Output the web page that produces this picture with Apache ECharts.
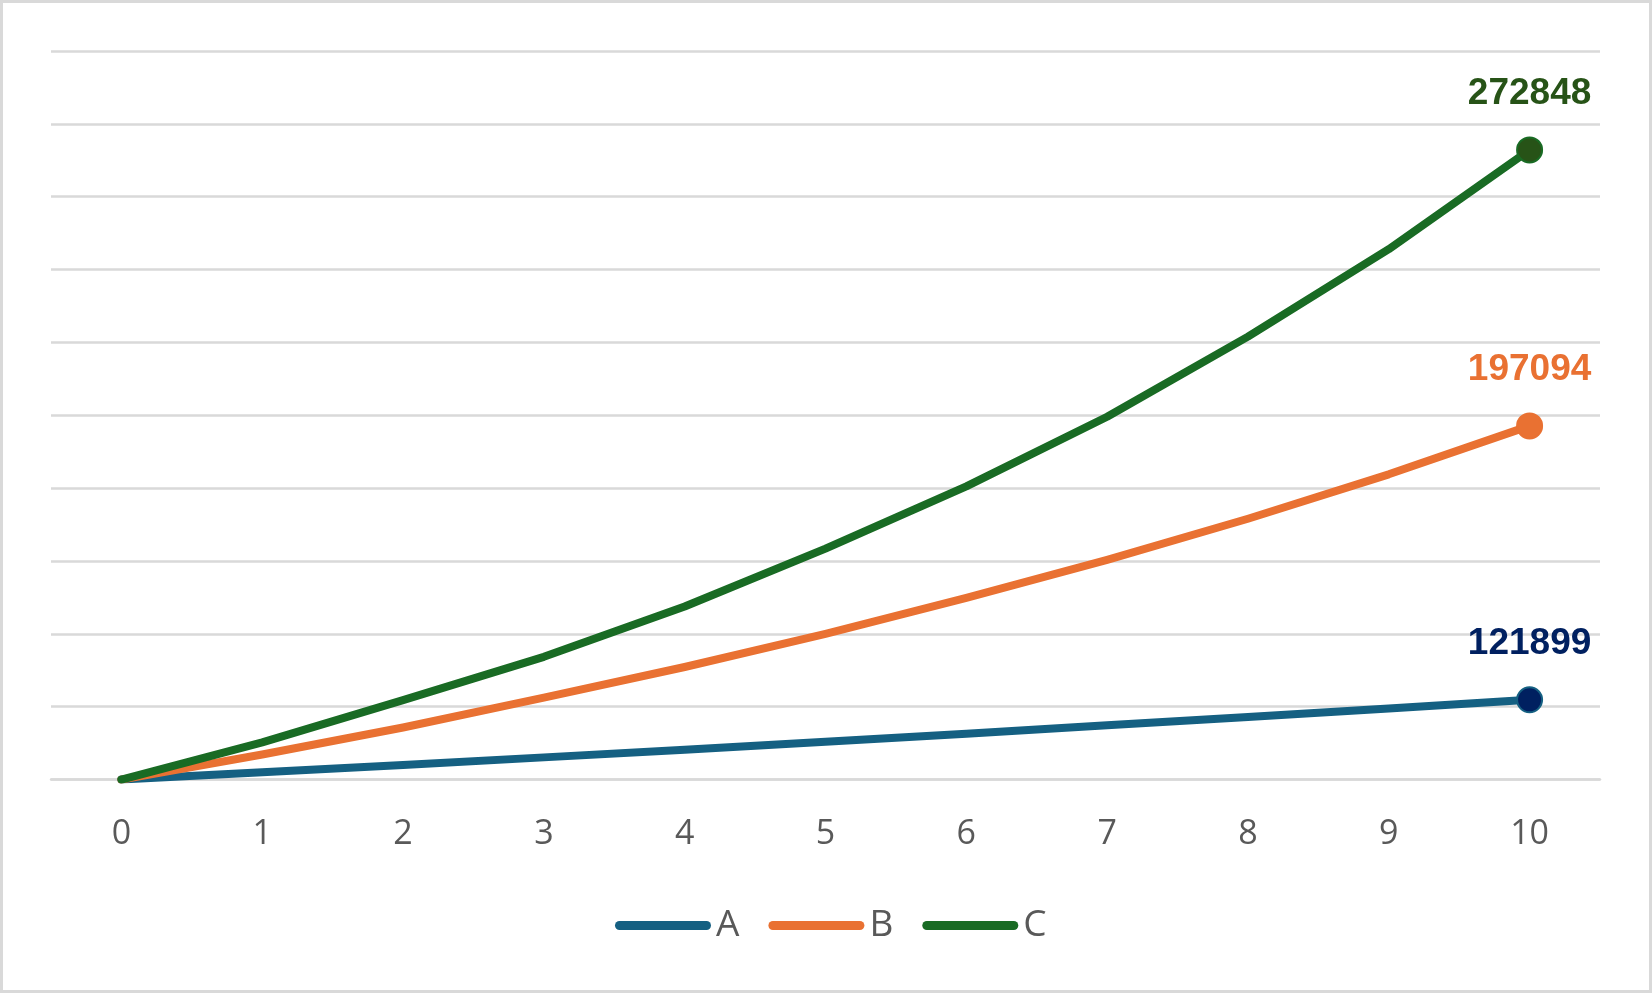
<!DOCTYPE html>
<html>
<head>
<meta charset="utf-8">
<script src="https://cdn.jsdelivr.net/npm/echarts@6/dist/echarts.min.js"></script>
<style>
html,body{margin:0;padding:0;background:#fff;}
#chart{width:1652px;height:993px;}
</style>
</head>
<body>
<div id="chart"></div>
<script>
const categories = ['0','1','2','3','4','5','6','7','8','9','10'];
const seriesA = [100000, 102000, 104000, 106100, 108200, 110400, 112600, 114900, 117200, 119500, 121899];
const seriesB = [100000, 106900, 114300, 122500, 130900, 140000, 149900, 160300, 171600, 183800, 197094];
const seriesC = [100000, 110200, 121800, 133700, 147500, 163400, 180500, 199600, 221600, 245600, 272848];
const yTicks = {min: 100000, max: 300000, interval: 20000};

const chart = echarts.init(document.getElementById('chart'));
const pill = 'path://M4.5,0 L91.5,0 A4.5,4.5 0 0 1 91.5,9 L4.5,9 A4.5,4.5 0 0 1 4.5,0 Z';

function mkSeries(name, data, color, markFill, labelColor) {
  const last = data.length - 1;
  return {
    name: name,
    type: 'line',
    data: data.map((v, i) => i === last ? {
      value: v,
      symbol: 'circle',
      symbolSize: 25,
      itemStyle: {color: markFill, borderColor: color, borderWidth: 2},
      label: {
        show: true, position: 'top', distance: 24,
        color: labelColor, fontSize: 37, fontWeight: 'bold',
        fontFamily: 'Liberation Sans, Arial, sans-serif'
      }
    } : {value: v, symbol: 'none'}),
    showSymbol: true,
    symbol: 'none',
    lineStyle: {color: color, width: 8, cap: 'round', join: 'round'},
    itemStyle: {color: color},
    emphasis: {disabled: true},
    animation: false,
    z: 2
  };
}

chart.setOption({
  animation: false,
  backgroundColor: '#ffffff',
  graphic: [{
    type: 'rect', silent: true, z: -1,
    shape: {x: 1.5, y: 1.5, width: 1649, height: 990},
    style: {fill: 'none', stroke: '#d9d9d9', lineWidth: 3}
  }],
  grid: {left: 51, right: 52, top: 51, bottom: 213.4, containLabel: false},
  legend: {
    bottom: 44,
    left: 610,
    itemWidth: 96,
    itemHeight: 9,
    itemGap: 29,
    textStyle: {color: '#595959', fontSize: 37, fontFamily: 'Open Sans, sans-serif'},
    data: [
      {name: 'A', icon: pill, itemStyle: {color: '#156082'}},
      {name: 'B', icon: pill, itemStyle: {color: '#E97132'}},
      {name: 'C', icon: pill, itemStyle: {color: '#196B24'}}
    ]
  },
  xAxis: {
    type: 'category',
    data: categories,
    boundaryGap: true,
    axisLine: {show: true, lineStyle: {color: '#d9d9d9', width: 2.5}},
    axisTick: {show: false},
    axisLabel: {color: '#595959', fontSize: 34, margin: 38, fontFamily: 'Open Sans, sans-serif'}
  },
  yAxis: {
    type: 'value',
    min: yTicks.min, max: yTicks.max, interval: yTicks.interval,
    axisLine: {show: false},
    axisTick: {show: false},
    axisLabel: {show: false},
    splitLine: {lineStyle: {color: '#d9d9d9', width: 2.5}}
  },
  series: [
    mkSeries('A', seriesA, '#156082', '#002060', '#002060'),
    mkSeries('B', seriesB, '#E97132', '#E97132', '#E97132'),
    mkSeries('C', seriesC, '#196B24', '#275317', '#275317')
  ]
});
</script>
</body>
</html>
